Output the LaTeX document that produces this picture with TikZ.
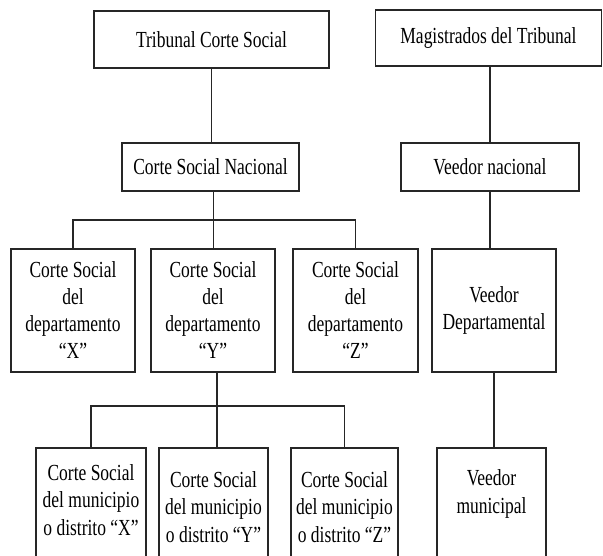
\documentclass[tikz,border=0pt]{standalone}
\usepackage{fontspec}
\setmainfont{Liberation Serif}[FakeStretch=0.76]
\begin{document}
\begin{tikzpicture}[x=1pt,y=-1pt,
  box/.style={draw=black!85, line width=1.5pt, align=center, inner sep=0pt,
    font=\fontsize{23}{27}\selectfont},
  lbl/.style={align=center, inner sep=0pt, font=\fontsize{23}{27.5}\selectfont},
  conn/.style={draw=black!85, line width=1.5pt}]
\useasboundingbox (0,0) rectangle (603,556);
\clip (0,0) rectangle (603,556);
% top level
\node[box, minimum width=235pt, minimum height=57pt] (A) at (211.5,39.5) {Tribunal Corte Social};
\node[box, minimum width=226pt, minimum height=56pt] (B) at (488.5,38) {Magistrados del Tribunal};
% national
\node[box, minimum width=177pt, minimum height=48pt] (C) at (210.5,167) {Corte Social Nacional};
\node[box, minimum width=178pt, minimum height=48pt] (D) at (490,167) {Veedor nacional};
% departments
\node[box, minimum width=124pt, minimum height=123pt] (DX) at (73,310.5) {Corte Social\\del\\departamento\\“X”};
\node[box, minimum width=124pt, minimum height=123pt] (DY) at (213,310.5) {Corte Social\\del\\departamento\\“Y”};
\node[box, minimum width=125pt, minimum height=123pt] (DZ) at (355.5,310.5) {Corte Social\\del\\departamento\\“Z”};
\node[box, minimum width=124pt, minimum height=123pt] (VD) at (494,310.5) {Veedor\\Departamental};
% municipal boxes (cut by the lower edge)
\node[box, minimum width=110pt, minimum height=152pt] (MX) at (91,524) {};
\node[box, minimum width=109pt, minimum height=152pt] (MY) at (213.5,524) {};
\node[box, minimum width=107pt, minimum height=152pt] (MZ) at (344.5,524) {};
\node[box, minimum width=109pt, minimum height=152pt] (VM) at (491.5,524) {};
\node[lbl] (tMX) at (91,500) {Corte Social\\del municipio\\o distrito “X”};
\node[lbl] (tMY) at (213.5,507) {Corte Social\\del municipio\\o distrito “Y”};
\node[lbl] (tMZ) at (344.5,507) {Corte Social\\del municipio\\o distrito “Z”};
\node[lbl] (tVM) at (491.5,494) {Veedor\\municipal};
% junctions
\coordinate (j1) at (213.5,220);
\coordinate (j2) at (217,406);
% connectors
\draw[conn] (A.south) -- (A.south |- C.north);
\draw[conn] (D.north |- B.south) -- (D.north);
\draw[conn] (C.south -| j1) -- (j1);
\draw[conn] (DX.north) |- (DZ.north |- j1) -- (DZ.north);
\draw[conn] (j1) -- (j1 |- DY.north);
\draw[conn] (D.south) -- (D.south |- VD.north);
\draw[conn] (DY.south -| j2) -- (j2);
\draw[conn] (MX.north) |- (MZ.north |- j2) -- (MZ.north);
\draw[conn] (j2) -- (j2 |- MY.north);
\draw[conn] (VD.south) -- (VD.south |- VM.north);
\end{tikzpicture}
\end{document}
